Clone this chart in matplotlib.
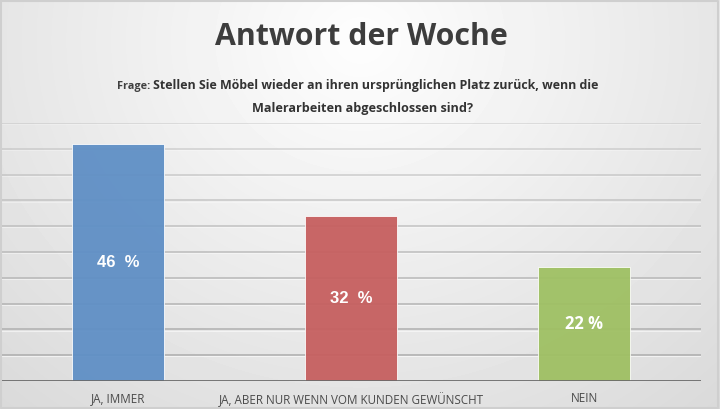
import numpy as np
import matplotlib
matplotlib.use("Agg")
import matplotlib.pyplot as plt

# Daten
kategorien = ["JA, IMMER", "JA, ABER NUR WENN VOM KUNDEN GEWÜNSCHT", "NEIN"]
werte = [46, 32, 22]
wert_texte = ["46  %", "32  %", "22 %"]
farben = ["#5f8fc5", "#c65f5f", "#9fc063"]
titel = "Antwort der Woche"
frage_prefix = "Frage:"
frage_zeile1 = "Stellen Sie Möbel wieder an ihren ursprünglichen Platz zurück, wenn die"
frage_zeile2 = "Malerarbeiten abgeschlossen sind?"

W, H = 720, 409
fig = plt.figure(figsize=(W / 100, H / 100), dpi=100)

# Hintergrund mit radialem Verlauf
bg = fig.add_axes([0, 0, 1, 1], zorder=0)
yy, xx = np.mgrid[0:H, 0:W]
r = np.sqrt(((xx - 360) / 420.0) ** 2 + ((yy - 40) / 380.0) ** 2)
v = np.clip(0.995 - 0.11 * r, 0, 1)
bg.imshow(v, cmap="gray", vmin=0, vmax=1, aspect="auto", extent=[0, W, H, 0])
bg.set_xlim(0, W)
bg.set_ylim(H, 0)
bg.axis("off")
# Rahmen
bg.plot([0.5, W - 2.5, W - 2.5, 0.5, 0.5], [1, 1, H - 1, H - 1, 1], color="#cfcfcf", lw=1.5)

# Diagramm
ax = fig.add_axes([1.5 / W, 1 - 381 / H, 699 / W, 258 / H], zorder=1)
ax.set_facecolor("none")
x = np.arange(len(kategorien))
ax.set_xlim(-0.5, len(kategorien) - 0.5)
ax.set_ylim(0, 50)

ticks = np.arange(5, 51, 5)
for i, t in enumerate(ticks):
    a = 1.0 - 0.6 * i / (len(ticks) - 1)
    ax.axhline(t, color="#b0b0b0", lw=1.2, alpha=a, zorder=1)
    ax.axhline(t - 0.25, color="white", lw=0.8, alpha=a * 0.6, zorder=1)

bars = ax.bar(x, werte, width=0.395, color=farben, alpha=0.95,
              edgecolor="#ffffff", linewidth=0.6, zorder=2)
ax.axhline(0, color="#6a6a6a", lw=2, zorder=3)

for i, (xi, w) in enumerate(zip(x, werte)):
    fam = "Liberation Sans" if i < 2 else "Open Sans"
    ax.text(xi, w / 2, wert_texte[i], ha="center", va="center", color="white",
            fontsize=12, fontweight="bold", family=fam, zorder=4)

for s in ax.spines.values():
    s.set_visible(False)
ax.set_yticks([])
ax.set_xticks(x)
ax.set_xticklabels(kategorien, fontsize=8.4, color="#4a4a4a", family="Open Sans")
ax.tick_params(axis="x", length=0, pad=8)

# Texte oben
renderer = fig.canvas.get_renderer()


def fit_text(px, py, s, width, **kw):
    t = fig.text(px / W, 1 - py / H, s, **kw)
    bb = t.get_window_extent(renderer)
    t.set_fontsize(t.get_fontsize() * width / bb.width)
    return t


fit_text(361, 37, titel, 293, ha="center", va="center", fontsize=24,
         fontweight="bold", color="#3d3d3d", family="Open Sans")

z1 = fit_text(0, 86, frage_zeile1, 445, ha="left", va="center", fontsize=12,
              fontweight="bold", color="#333333", family="Open Sans")
pre = fig.text(0, 1 - 86.5 / H, frage_prefix, ha="left", va="center",
               fontsize=z1.get_fontsize() * 0.88, fontweight="bold",
               color="#404040", family="Open Sans")
w_pre = pre.get_window_extent(renderer).width
w_z1 = z1.get_window_extent(renderer).width
gap = 3
start = 358 - (w_pre + gap + w_z1) / 2
pre.set_x(start / W)
z1.set_x((start + w_pre + gap) / W)

fit_text(362, 108.5, frage_zeile2, 220, ha="center", va="center", fontsize=12,
         fontweight="bold", color="#333333", family="Open Sans")

fig.savefig("out.png", dpi=100)
